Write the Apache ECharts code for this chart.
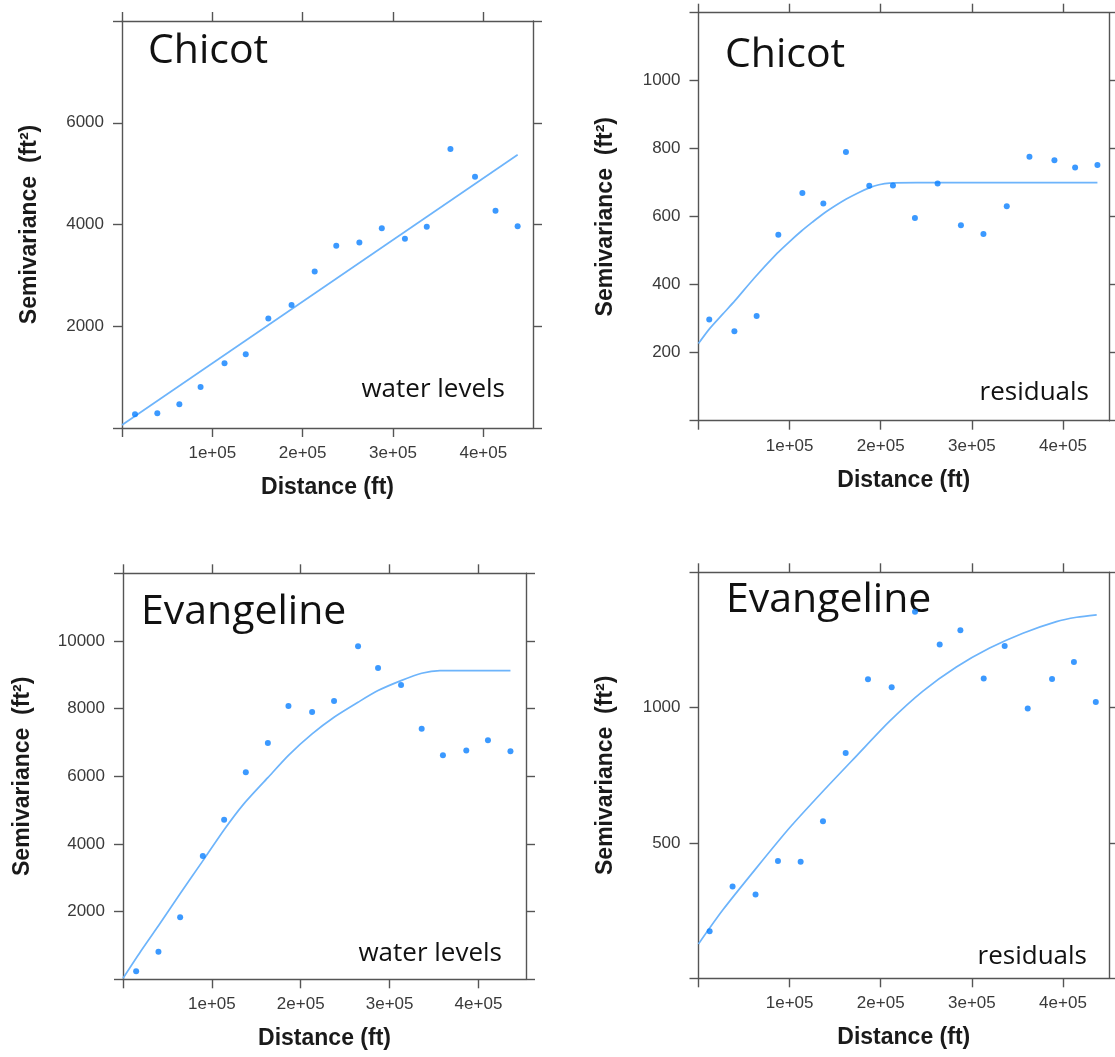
<!DOCTYPE html>
<html><head><meta charset="utf-8">
<script src="https://cdn.jsdelivr.net/npm/echarts@6/dist/echarts.min.js"></script>
<style>html,body{margin:0;padding:0;background:#fff}#c{width:1115px;height:1057px}</style>
</head><body><div id="c"></div>
<script>
// ---------- data ----------
const xTickValues = [0, 100000, 200000, 300000, 400000];
const xLabelValues = [100000, 200000, 300000, 400000];
const xTickLabels = ['1e+05', '2e+05', '3e+05', '4e+05'];

const panelTitles = ['Chicot', 'Chicot', 'Evangeline', 'Evangeline'];
const panelNotes = ['water levels', 'residuals', 'water levels', 'residuals'];
const xAxisTitle = 'Distance (ft)';
const yAxisTitle = 'Semivariance  (ft\u00B2)';

// Chicot, water levels
const chicotWaterDist = [14400, 39100, 63500, 87000, 113500, 137000, 162000, 187700, 213300, 237200, 262800, 287600, 313200, 337400, 363600, 390800, 413500, 438000];
const chicotWaterGamma = [270, 290, 466, 807, 1272, 1449, 2151, 2420, 3075, 3580, 3646, 3928, 3718, 3954, 5482, 4938, 4269, 3967];
const chicotWaterFitDist = [0, 438000];
const chicotWaterFitGamma = [60, 5370];
const chicotWaterYTicks = [0, 2000, 4000, 6000, 8000];
const chicotWaterYLabels = [2000, 4000, 6000];

// Chicot, residuals
const chicotResidDist = [11800, 39400, 63800, 87600, 114000, 137000, 161800, 187400, 213400, 237500, 262400, 288000, 312700, 338300, 363200, 390600, 413300, 437800];
const chicotResidGamma = [298, 263, 308, 547, 670, 639, 790, 691, 692, 596, 698, 575, 549, 631, 776, 766, 745, 752];
const chicotResidFitDist = [0, 12000, 26800, 40000, 61000, 86200, 100000, 113000, 125000, 136600, 150000, 162200, 175000, 186700, 198000, 209800, 240000, 300000, 370000, 437800];
const chicotResidFitGamma = [227, 270, 314, 353, 419, 492, 527, 558, 584, 608, 632, 652, 670, 684, 694, 699, 700, 700, 700, 700];
const chicotResidYTicks = [0, 200, 400, 600, 800, 1000, 1200];
const chicotResidYLabels = [200, 400, 600, 800, 1000];

// Evangeline, water levels
const evangWaterDist = [14800, 39900, 64300, 89800, 113800, 138200, 163000, 186200, 212800, 237500, 264500, 287000, 312900, 336100, 360000, 386300, 410700, 436000];
const evangWaterGamma = [236, 816, 1833, 3645, 4718, 6119, 6985, 8079, 7901, 8227, 9843, 9202, 8700, 7409, 6621, 6760, 7065, 6739];
const evangWaterFitDist = [0, 20000, 41800, 65000, 89800, 113800, 135500, 163000, 186200, 212800, 237500, 264500, 287000, 312900, 336100, 356700, 380000, 410000, 436000];
const evangWaterFitGamma = [30, 830, 1655, 2560, 3500, 4420, 5170, 5960, 6620, 7252, 7745, 8188, 8533, 8827, 9046, 9122, 9122, 9122, 9122];
const evangWaterYTicks = [0, 2000, 4000, 6000, 8000, 10000, 12000];
const evangWaterYLabels = [2000, 4000, 6000, 8000, 10000];

// Evangeline, residuals
const evangResidDist = [12200, 37400, 62600, 87200, 112100, 136600, 161500, 186000, 212000, 237600, 264700, 287400, 313000, 336000, 361300, 388000, 412000, 436000];
const evangResidGamma = [174, 339, 310, 433, 431, 580, 832, 1105, 1075, 1354, 1233, 1286, 1108, 1228, 997, 1106, 1169, 1021];
const evangResidFitDist = [0, 26800, 63400, 100000, 136600, 173200, 209800, 246300, 283000, 319500, 356000, 392800, 415000, 437000];
const evangResidFitGamma = [127, 253, 407, 556, 691, 821, 950, 1061, 1150, 1220, 1275, 1318, 1334, 1343];
const evangResidYTicks = [0, 500, 1000, 1500];
const evangResidYLabels = [500, 1000];

// ---------- layout / style ----------
const panels = [
  { dist: chicotWaterDist, gamma: chicotWaterGamma, fitD: chicotWaterFitDist, fitG: chicotWaterFitGamma, yTicks: chicotWaterYTicks, yLabels: chicotWaterYLabels,
    grid: { left: 122, top: 21, width: 411, height: 407 }, xMax: 455000, yGap: 81,
    title: { left: 148, top: 31 }, note: { right: 610, top: 377 } },
  { dist: chicotResidDist, gamma: chicotResidGamma, fitD: chicotResidFitDist, fitG: chicotResidFitGamma, yTicks: chicotResidYTicks, yLabels: chicotResidYLabels,
    grid: { left: 698.5, top: 12.7, width: 410.5, height: 408 }, xMax: 450500, yGap: 81,
    title: { left: 725, top: 35 }, note: { right: 26, top: 380 } },
  { dist: evangWaterDist, gamma: evangWaterGamma, fitD: evangWaterFitDist, fitG: evangWaterFitGamma, yTicks: evangWaterYTicks, yLabels: evangWaterYLabels,
    grid: { left: 123, top: 573.3, width: 403, height: 406 }, xMax: 453500, yGap: 89,
    title: { left: 141, top: 592 }, note: { right: 613, top: 941 } },
  { dist: evangResidDist, gamma: evangResidGamma, fitD: evangResidFitDist, fitG: evangResidFitGamma, yTicks: evangResidYTicks, yLabels: evangResidYLabels,
    grid: { left: 698.5, top: 572.3, width: 410.5, height: 406 }, xMax: 450500, yGap: 81,
    title: { left: 726, top: 580 }, note: { right: 28, top: 944 } }
];

const frameColor = '#555';
const tickFont = '"Liberation Sans", Arial, Helvetica, sans-serif';
const lineStyle = { color: frameColor, width: 1.4 };

const grids = [], xAxes = [], yAxes = [], series = [], graphics = [];
panels.forEach((p, i) => {
  grids.push(Object.assign({ containLabel: false }, p.grid));
  const xb = xAxes.length;
  xAxes.push({
    gridIndex: i, type: 'value', position: 'bottom', min: 0, max: p.xMax, interval: 100000,
    axisLine: { show: true, onZero: false, lineStyle },
    axisTick: { show: true, length: 9, lineStyle, customValues: xTickValues },
    axisLabel: { show: true, customValues: xLabelValues, margin: 17, fontSize: 17, color: '#3a3a3a', fontFamily: tickFont,
      formatter: v => { const k = xLabelValues.indexOf(v); return k >= 0 ? xTickLabels[k] : ''; } },
    splitLine: { show: false },
    name: xAxisTitle, nameLocation: 'middle', nameGap: 48,
    nameTextStyle: { fontSize: 23, fontWeight: 'bold', color: '#1a1a1a', fontFamily: tickFont }
  });
  xAxes.push({
    gridIndex: i, type: 'value', position: 'top', min: 0, max: p.xMax, interval: 100000,
    axisLine: { show: true, onZero: false, lineStyle },
    axisTick: { show: true, length: 9, lineStyle, customValues: xTickValues },
    axisLabel: { show: false }, splitLine: { show: false }
  });
  const yl = yAxes.length;
  const yMax = p.yTicks[p.yTicks.length - 1];
  const yInt = p.yTicks[1] - p.yTicks[0];
  yAxes.push({
    gridIndex: i, type: 'value', position: 'left', min: 0, max: yMax, interval: yInt,
    axisLine: { show: true, onZero: false, lineStyle },
    axisTick: { show: true, length: 9, lineStyle, customValues: p.yTicks },
    axisLabel: { show: true, customValues: p.yLabels, margin: 18, fontSize: 17, color: '#3a3a3a', fontFamily: tickFont,
      formatter: v => String(v) },
    splitLine: { show: false },
    name: yAxisTitle, nameLocation: 'middle', nameGap: p.yGap,
    nameTextStyle: { fontSize: 23, fontWeight: 'bold', color: '#1a1a1a', fontFamily: tickFont }
  });
  yAxes.push({
    gridIndex: i, type: 'value', position: 'right', min: 0, max: yMax, interval: yInt,
    axisLine: { show: true, onZero: false, lineStyle },
    axisTick: { show: true, length: 9, lineStyle, customValues: p.yTicks },
    axisLabel: { show: false }, splitLine: { show: false }
  });
  series.push({
    type: 'line', xAxisIndex: xb, yAxisIndex: yl,
    data: p.fitD.map((d, k) => [d, p.fitG[k]]),
    showSymbol: false, smooth: 0.25,
    lineStyle: { color: '#6db4fb', width: 1.7, join: 'round' }, z: 2, silent: true
  });
  series.push({
    type: 'scatter', xAxisIndex: xb, yAxisIndex: yl,
    data: p.dist.map((d, k) => [d, p.gamma[k]]),
    symbol: 'circle', symbolSize: 6, itemStyle: { color: '#0a80ff' }, z: 3
  });
  graphics.push({ type: 'text', left: p.title.left, top: p.title.top,
    style: { text: panelTitles[i], font: '41px "Open Sans"', fill: '#111' } });
  graphics.push({ type: 'text', right: p.note.right, top: p.note.top,
    style: { text: panelNotes[i], font: '26px "Open Sans"', fill: '#111' } });
});

const chart = echarts.init(document.getElementById('c'), null, { renderer: 'canvas' });
chart.setOption({
  animation: false,
  backgroundColor: '#fff',
  grid: grids, xAxis: xAxes, yAxis: yAxes, series, graphic: graphics
});
</script></body></html>
